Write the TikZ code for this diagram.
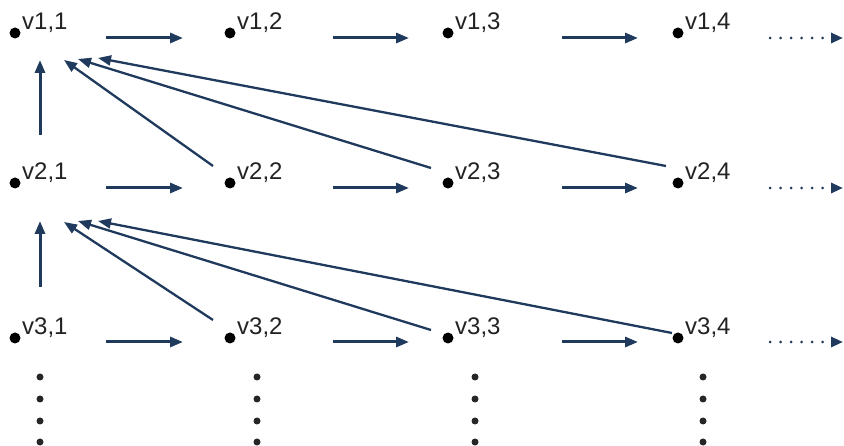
\documentclass[tikz,border=0pt]{standalone}
\usepackage{fontspec}
\setmainfont{Liberation Sans}
\usetikzlibrary{arrows.meta}
\definecolor{arr}{HTML}{1F3A5C}
\definecolor{txt}{HTML}{222222}
\begin{document}
\begin{tikzpicture}[x=1pt,y=-1pt,
  vdot/.style={circle,fill=black,inner sep=0pt,minimum size=11pt},
  lab/.style={anchor=base west,inner sep=0pt,text=txt,font=\fontsize{24}{28}\selectfont},
  harr/.style={draw=arr,line width=3pt,-{Triangle[length=13pt,width=10pt]}},
  darr/.style={draw=arr,line width=2.3pt,-{Triangle[length=13pt,width=10pt]}},
  dotarr/.style={draw=arr,line width=3pt,dash pattern=on 0pt off 10.5pt,line cap=round,-{Triangle[length=12pt,width=10pt]}},
  sdot/.style={circle,fill=black!85,inner sep=0pt,minimum size=7pt}]
\useasboundingbox (0,0) rectangle (844,446);
% vertices
\foreach \r/\y in {1/33,2/183,3/338}{
  \foreach \c/\x in {1/15,2/230,3/448,4/678}{
    \node[vdot] (d\r\c) at (\x,\y) {};
    \node[lab] (l\r\c) at (\x+7,\y-3) {v\r,\c};
  }
}
% horizontal arrows
\foreach \r/\y in {1/38,2/188,3/342}{
  \coordinate (h\r a1) at (106,\y); \coordinate (h\r b1) at (183,\y);
  \coordinate (h\r a2) at (333,\y); \coordinate (h\r b2) at (409,\y);
  \coordinate (h\r a3) at (562,\y); \coordinate (h\r b3) at (638,\y);
  \coordinate (h\r a4) at (770,\y); \coordinate (h\r b4) at (843,\y);
  \draw[harr] (h\r a1) -- (h\r b1);
  \draw[harr] (h\r a2) -- (h\r b2);
  \draw[harr] (h\r a3) -- (h\r b3);
  \draw[dotarr] (h\r a4) -- (h\r b4);
}
% vertical arrows
\coordinate (va1) at (40,135); \coordinate (vb1) at (40,60);
\coordinate (va2) at (40,287); \coordinate (vb2) at (40,221);
\draw[harr] (va1) -- (vb1);
\draw[harr] (va2) -- (vb2);
% diagonal arrows, row 2 -> v1,1
\coordinate (s22) at (213,166); \coordinate (t22) at (64,60);
\coordinate (s23) at (431,168); \coordinate (t23) at (78,59);
\coordinate (s24) at (666,166); \coordinate (t24) at (98,58);
\draw[darr] (s22) -- (t22);
\draw[darr] (s23) -- (t23);
\draw[darr] (s24) -- (t24);
% diagonal arrows, row 3 -> v2,1
\coordinate (s32) at (213,320); \coordinate (t32) at (64,222);
\coordinate (s33) at (431,330); \coordinate (t33) at (78,221);
\coordinate (s34) at (672,333); \coordinate (t34) at (98,221);
\draw[darr] (s32) -- (t32);
\draw[darr] (s33) -- (t33);
\draw[darr] (s34) -- (t34);
% vertical dots
\foreach \c/\x in {1/40,2/257,3/475,4/703}{
  \foreach \k/\yy in {1/377,2/399,3/421,4/442}{
    \node[sdot] (vd\c\k) at (\x,\yy) {};
  }
}
\end{tikzpicture}
\end{document}
